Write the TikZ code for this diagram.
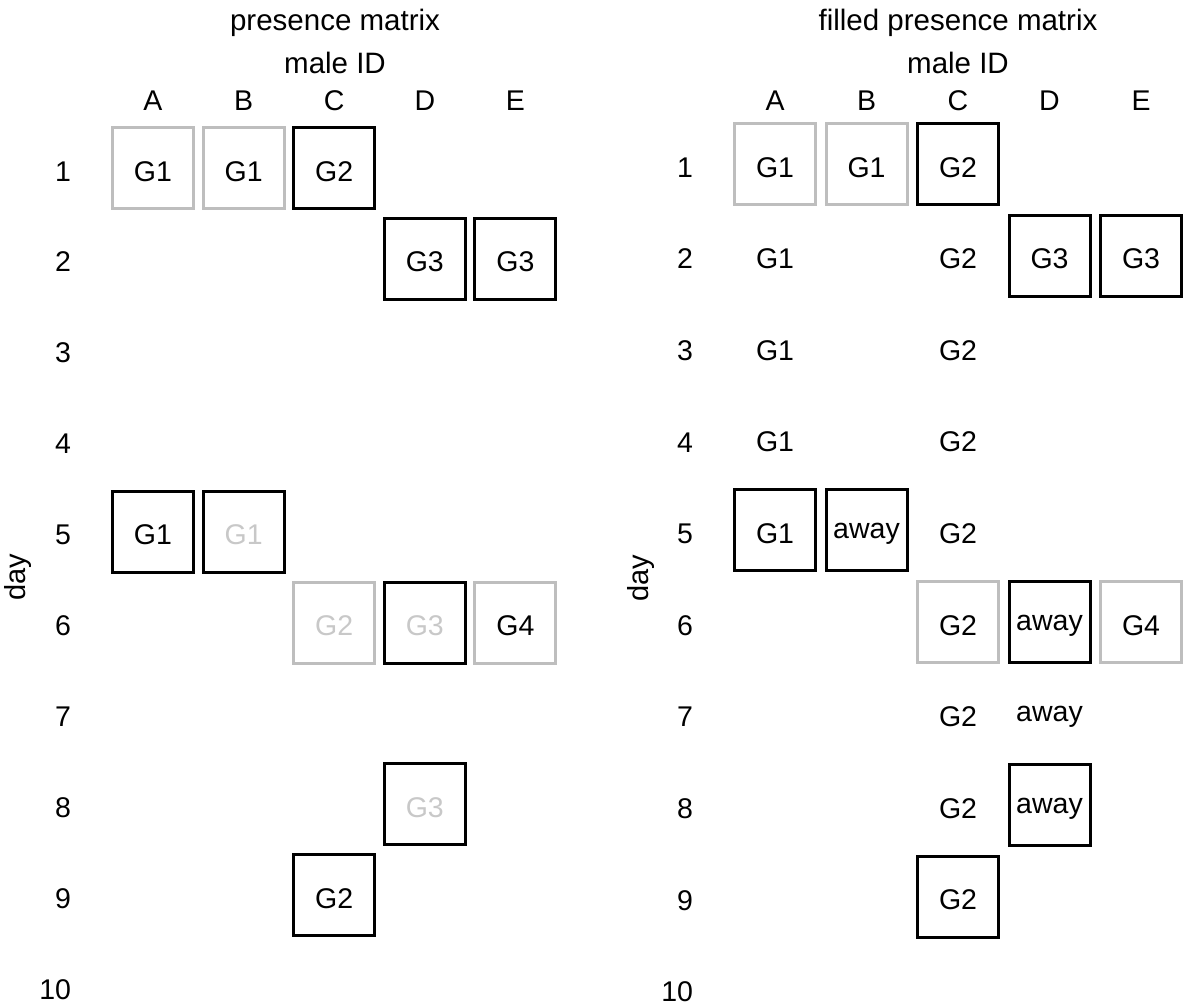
\documentclass[tikz,border=0pt]{standalone}
\usepackage{fontspec}
\setmainfont{Liberation Sans}
\definecolor{boxgray}{RGB}{190,190,190}
\definecolor{txtgray}{RGB}{200,200,200}
% position helpers (1pt = 1px of the reference)
\newcommand\LXc[1]{\fpeval{153+90.6*(#1-1)}}
\newcommand\LYc[1]{\fpeval{168+90.9*(#1-1)}}
\newcommand\RXc[1]{\fpeval{775+91.5*(#1-1)}}
\newcommand\RYc[1]{\fpeval{164+91.6*(#1-1)}}
% boxed cell: col, row, box colour, text colour, baseline offset, text
\newcommand\boxcellL[6]{%
  \node[cellbox,draw=#3] (Lbox#1#2) at ({\LXc{#1}},{\LYc{#2}}) {};
  \node[celltext,text=#4] (Ltxt#1#2) at ({\LXc{#1}},{\fpeval{\LYc{#2}+#5}}) {#6};}
\newcommand\boxcellR[6]{%
  \node[cellbox,draw=#3] (Rbox#1#2) at ({\RXc{#1}},{\RYc{#2}}) {};
  \node[celltext,text=#4] (Rtxt#1#2) at ({\RXc{#1}},{\fpeval{\RYc{#2}+#5}}) {#6};}
\newcommand\txtcellR[3]{%
  \node[celltext] (Rtxt#1#2) at ({\RXc{#1}},{\fpeval{\RYc{#2}+13}}) {#3};}
\newcommand\awaycellR[2]{%
  \node[celltext] (Rtxt#1#2) at ({\RXc{#1}},{\fpeval{\RYc{#2}+8}}) {away};}
\begin{document}
\begin{tikzpicture}[x=1pt,y=-1pt,
  every node/.style={inner sep=0pt,outer sep=0pt,font=\fontsize{28.5}{33}\selectfont},
  cellbox/.style={rectangle,line width=3pt,minimum width=81pt,minimum height=81pt},
  celltext/.style={anchor=base,text=black},
  rowlab/.style={anchor=base east},
  collab/.style={anchor=base},
  titlelab/.style={anchor=base,font=\fontsize{29.5}{34}\selectfont},
  axlab/.style={rotate=90,font=\fontsize{29}{34}\selectfont}]
\useasboundingbox (0,0) rectangle (1183,1007);

% ---------------- left panel ----------------
\node[titlelab] (Ltitle) at (335,30) {presence matrix};
\node[titlelab] (Lmale) at (335,73) {male ID};
\foreach \c/\l in {1/A,2/B,3/C,4/D,5/E}
  \node[collab] (Lcol\l) at ({\LXc{\c}},110) {\l};
\foreach \r in {1,...,10}
  \node[rowlab] (Lrow\r) at (71,{\fpeval{\LYc{\r}+13}}) {\r};
\node[axlab] (Lday) at (18,577) {day};

\boxcellL{1}{1}{boxgray}{black}{13}{G1}
\boxcellL{2}{1}{boxgray}{black}{13}{G1}
\boxcellL{3}{1}{black}{black}{13}{G2}
\boxcellL{4}{2}{black}{black}{13}{G3}
\boxcellL{5}{2}{black}{black}{13}{G3}
\boxcellL{1}{5}{black}{black}{13}{G1}
\boxcellL{2}{5}{black}{txtgray}{13}{G1}
\boxcellL{3}{6}{boxgray}{txtgray}{13}{G2}
\boxcellL{4}{6}{black}{txtgray}{13}{G3}
\boxcellL{5}{6}{boxgray}{black}{13}{G4}
\boxcellL{4}{8}{black}{txtgray}{13}{G3}
\boxcellL{3}{9}{black}{black}{13}{G2}

% ---------------- right panel ----------------
\node[titlelab] (Rtitle) at (958,30) {filled presence matrix};
\node[titlelab] (Rmale) at (958,73) {male ID};
\foreach \c/\l in {1/A,2/B,3/C,4/D,5/E}
  \node[collab] (Rcol\l) at ({\RXc{\c}},110) {\l};
\foreach \r in {1,...,10}
  \node[rowlab] (Rrow\r) at (693,{\fpeval{\RYc{\r}+13.2}}) {\r};
\node[axlab] (Rday) at (641,578) {day};

\boxcellR{1}{1}{boxgray}{black}{13}{G1}
\boxcellR{2}{1}{boxgray}{black}{13}{G1}
\boxcellR{3}{1}{black}{black}{13}{G2}
\txtcellR{1}{2}{G1}
\txtcellR{3}{2}{G2}
\boxcellR{4}{2}{black}{black}{13}{G3}
\boxcellR{5}{2}{black}{black}{13}{G3}
\txtcellR{1}{3}{G1}
\txtcellR{3}{3}{G2}
\txtcellR{1}{4}{G1}
\txtcellR{3}{4}{G2}
\boxcellR{1}{5}{black}{black}{13}{G1}
\boxcellR{2}{5}{black}{black}{8}{away}
\txtcellR{3}{5}{G2}
\boxcellR{3}{6}{boxgray}{black}{13}{G2}
\boxcellR{4}{6}{black}{black}{8}{away}
\boxcellR{5}{6}{boxgray}{black}{13}{G4}
\txtcellR{3}{7}{G2}
\awaycellR{4}{7}
\txtcellR{3}{8}{G2}
\boxcellR{4}{8}{black}{black}{8}{away}
\boxcellR{3}{9}{black}{black}{13}{G2}
\end{tikzpicture}
\end{document}
